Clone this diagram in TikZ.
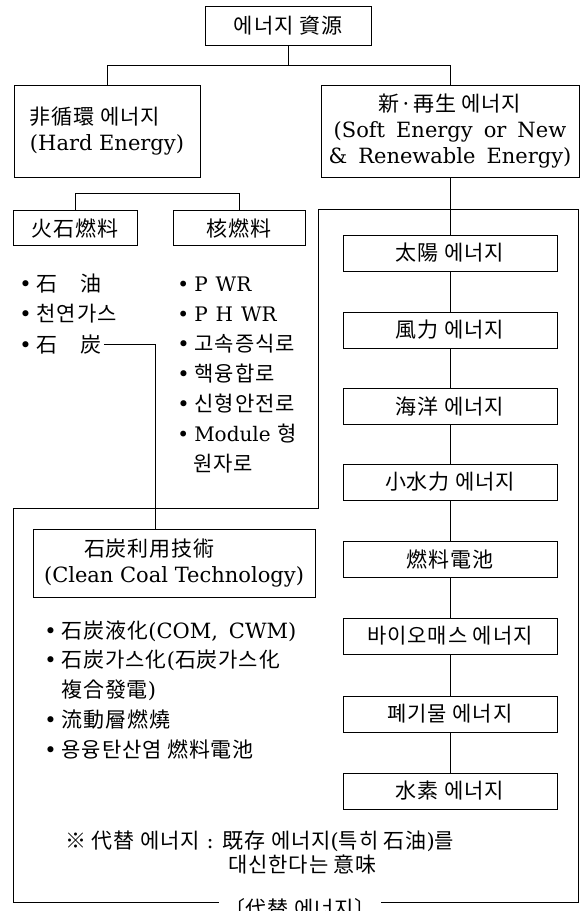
\documentclass[tikz,border=0pt]{standalone}
\usepackage{fontspec}
\setmainfont{DejaVu Serif}
\newfontfamily\kr{Noto Sans CJK KR}[LetterSpace=4]
\newcommand{\K}[1]{{\kr #1}}
\newcommand{\fs}{\fontsize{21}{26}\selectfont}
\newcommand{\ls}{\fontsize{20}{26}\selectfont}
\newcommand{\bul}{\textbullet\hspace{5pt}}
\newcommand{\wsp}{\hspace{11pt}}
\begin{document}
\begin{tikzpicture}[x=1pt,y=-1pt,line width=0.9pt,
  every node/.style={font=\fs, inner sep=0pt},
  bx/.style={draw, minimum height=36pt, align=center},
  itm/.style={anchor=base west}]
\useasboundingbox (0,0) rectangle (580,911);
% top level
\node[bx, minimum width=166pt, minimum height=39pt] (top) at (288,25.5) {\K{에너지 資源}};
\node[bx, minimum width=186pt, minimum height=92pt, align=left] (hard) at (107,131) {\K{非循環 에너지}\\(Hard Energy)};
\node[bx, minimum width=258pt, minimum height=92pt] (renew) at (450,131) {\K{新·再生 에너지}\\(Soft\wsp Energy\wsp or\wsp New\\\&\wsp Renewable\wsp Energy)};
\draw (top.south) -- ++(0,20) coordinate (j1);
\draw (hard.north) |- (j1) -| (renew.north);
% hard energy branch
\node[bx, minimum width=124pt, minimum height=35pt] (fossil) at (75,228) {\K{火石燃料}};
\node[bx, minimum width=132pt, minimum height=35pt] (nuc) at (239,228) {\K{核燃料}};
\draw (fossil.north) -- ++(0,-17) -| (nuc.north);
\node[itm] (oil) at (19,291) {\bul\K{石　油}};
\node[itm] (gas) at (19,321) {\bul\K{천연가스}};
\node[itm] (coal) at (19,352) {\bul\K{石　炭}};
\node[itm, font=\ls] (pwr) at (177,291) {\bul P\hspace{8pt}WR};
\node[itm, font=\ls] (phwr) at (177,321) {\bul P\hspace{8pt}H\hspace{8pt}WR};
\node[itm] (fbr) at (177,351) {\bul\K{고속증식로}};
\node[itm] (fus) at (177,381) {\bul\K{핵융합로}};
\node[itm] (adv) at (177,411) {\bul\K{신형안전로}};
\node[itm, font=\ls] (mod) at (177,441) {\bul Module \K{\fs 형}};
\node[itm] (mod2) at (193,471) {\K{원자로}};
% alternative energy frame
\draw (318,209) -- (578,209) -- (578,902) -- (13,902) -- (13,508) -- (318,508) -- cycle;
% clean coal
\node[bx, minimum width=282pt, minimum height=68pt, align=left] (cct) at (174,563) {\hspace{40pt}\K{石炭利用技術}\\(Clean Coal Technology)};
\coordinate (cctin) at (155,529);
\draw ([xshift=2pt]coal.east) -| (cctin);
\node[itm] (liq) at (44,638) {\bul\K{石炭液化}(COM,\wsp CWM)};
\node[itm] (gasf) at (44,667) {\bul\K{石炭가스化}(\K{石炭가스化}};
\node[itm] (gasf2) at (61,697) {\K{複合發電})};
\node[itm] (fbc) at (44,727) {\bul\K{流動層燃燒}};
\node[itm] (mcfc) at (44,757) {\bul\K{용융탄산염 燃料電池}};
% renewable column
\node[bx, minimum width=214pt] (sun) at (450,253) {\K{太陽 에너지}};
\node[bx, minimum width=214pt] (wind) at (450,330) {\K{風力 에너지}};
\node[bx, minimum width=214pt] (ocean) at (450,406.5) {\K{海洋 에너지}};
\node[bx, minimum width=214pt] (hydro) at (450,482) {\K{小水力 에너지}};
\node[bx, minimum width=214pt] (fuel) at (450,559) {\K{燃料電池}};
\node[bx, minimum width=214pt] (bio) at (450,636) {\K{바이오매스 에너지}};
\node[bx, minimum width=214pt] (waste) at (450,714) {\K{폐기물 에너지}};
\node[bx, minimum width=214pt] (htwo) at (450,791) {\K{水素 에너지}};
\draw (renew.south) -- (sun.north);
\draw (sun.south) -- (wind.north);
\draw (wind.south) -- (ocean.north);
\draw (ocean.south) -- (hydro.north);
\draw (hydro.south) -- (fuel.north);
\draw (fuel.south) -- (bio.north);
\draw (bio.south) -- (waste.north);
\draw (waste.south) -- (htwo.north);
% note
\node[itm] (note1) at (65,848) {\K{※ 代替 에너지} : \K{既存 에너지}(\K{특히 石油})\K{를}};
\node[itm] (note2) at (228,872) {\K{대신한다는 意味}};
\node[fill=white, inner xsep=5pt, inner ysep=2pt, anchor=base] (alt) at (300,916) {\K{〔代替 에너지〕}};
\end{tikzpicture}
\end{document}
